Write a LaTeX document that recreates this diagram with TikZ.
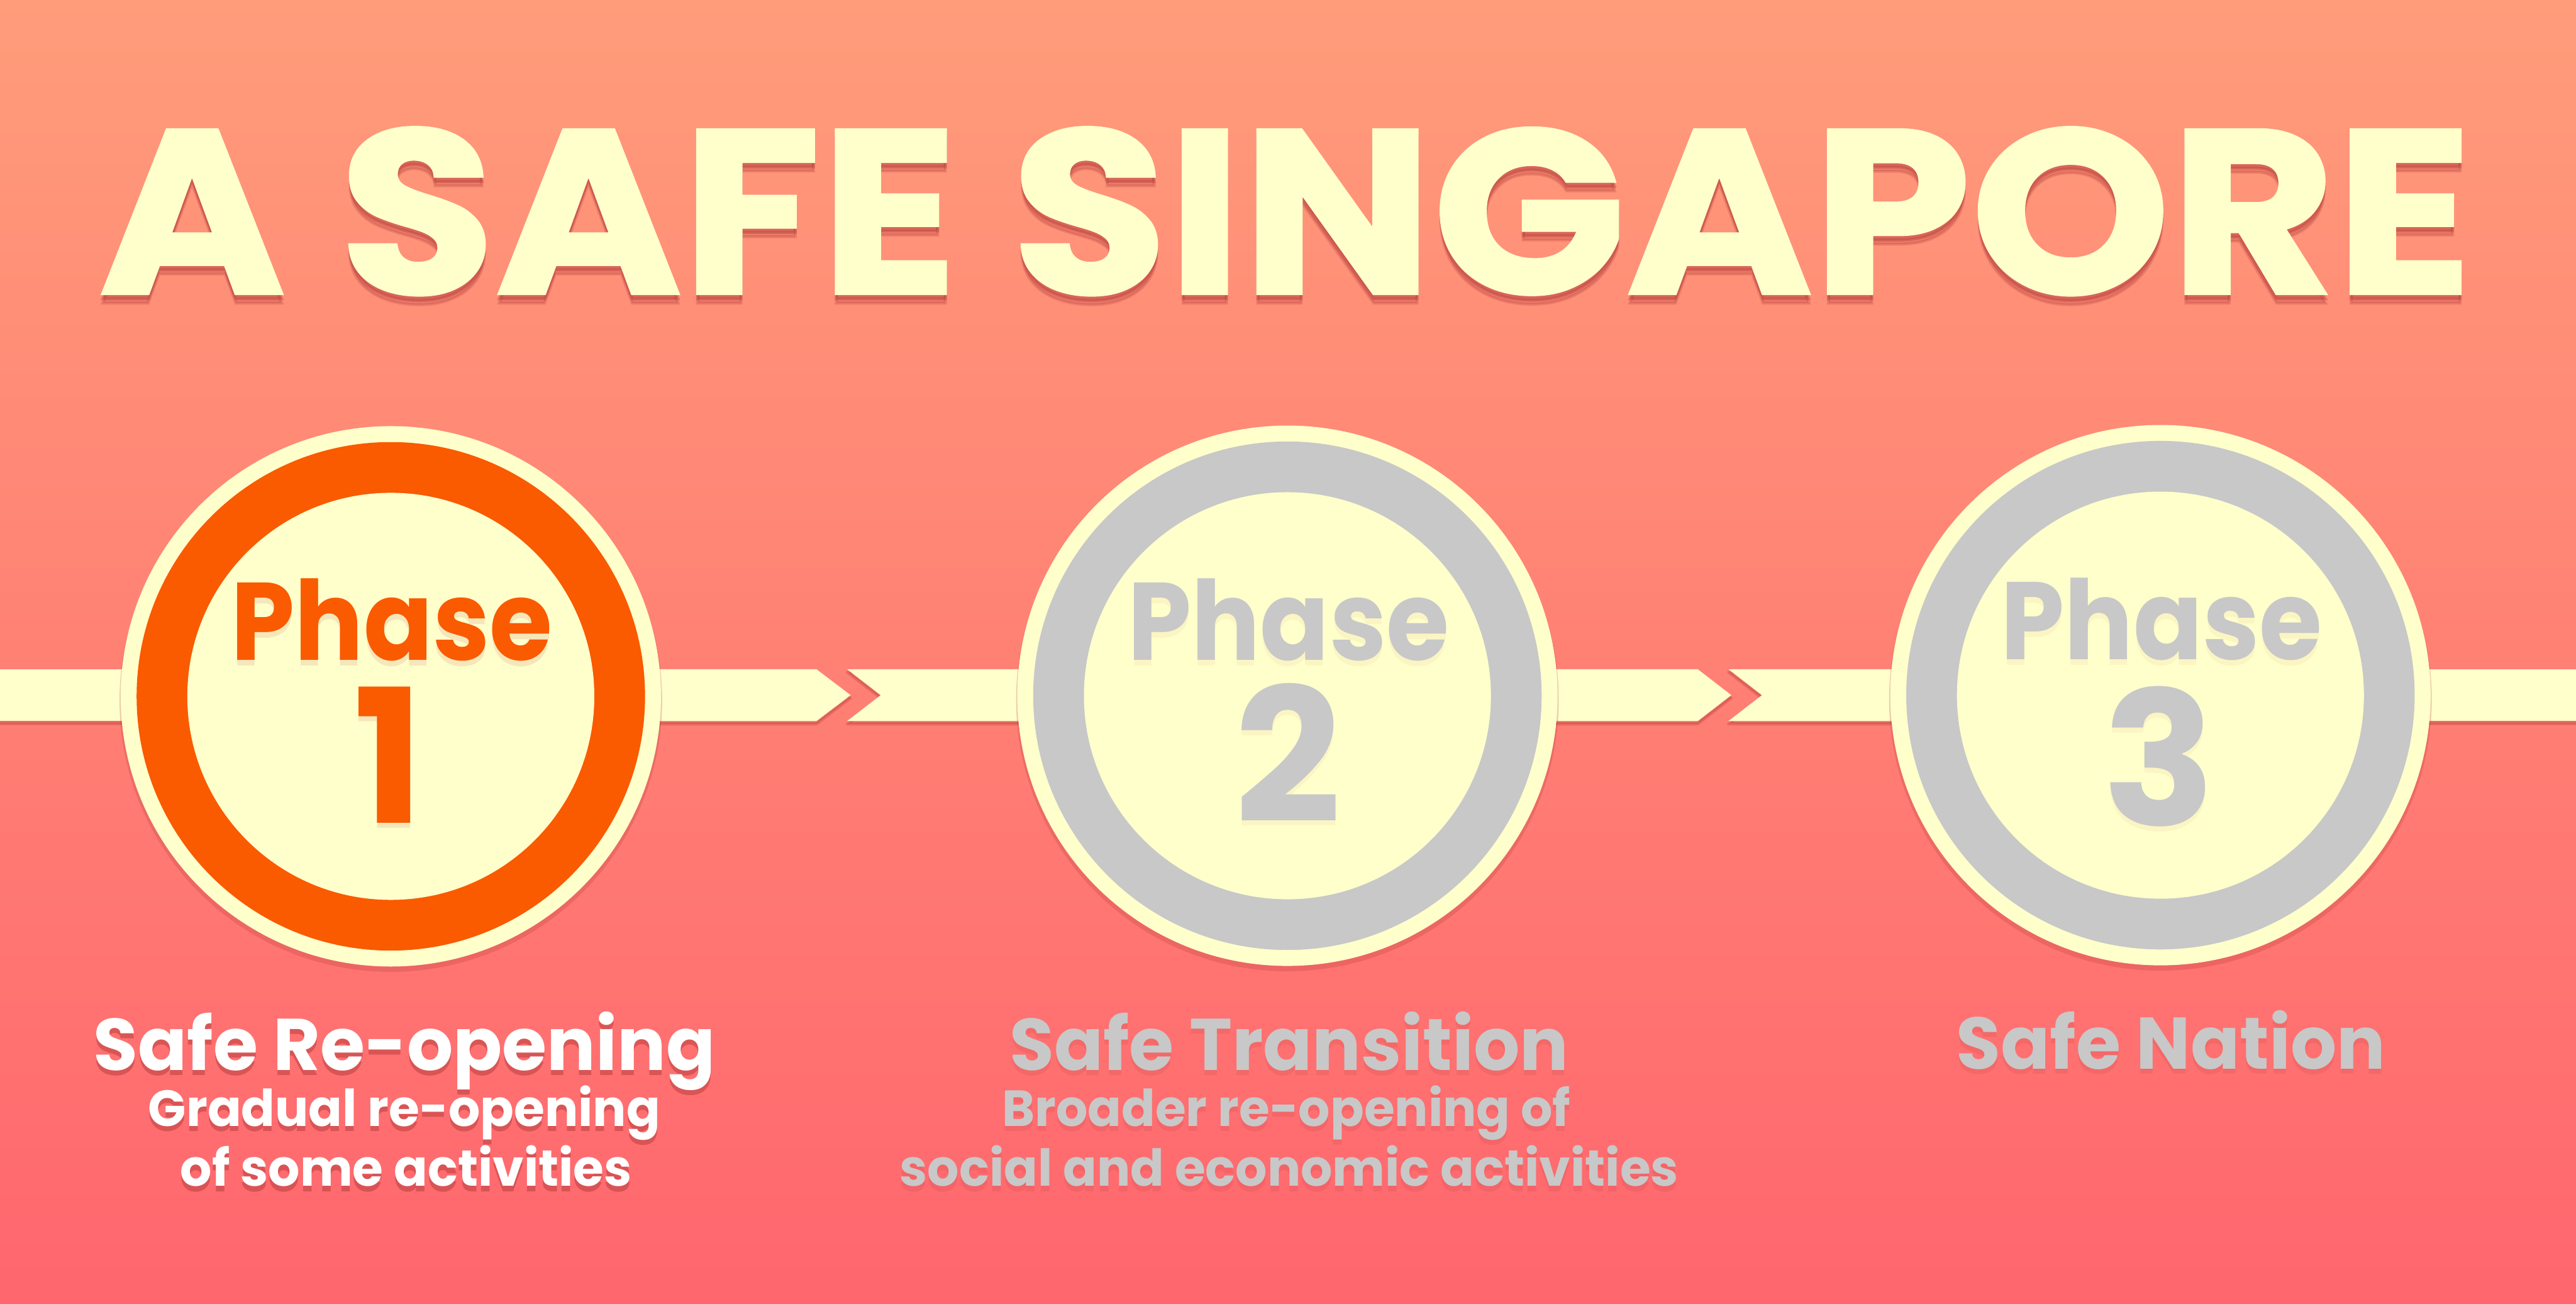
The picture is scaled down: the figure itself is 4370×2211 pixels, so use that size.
\documentclass[tikz,border=0pt]{standalone}
\usepackage{fontspec}
\setmainfont{Poppins}
\newfontfamily\heavyfont{Poppins}[BoldFeatures={FakeBold=1.2}]
\definecolor{bgtop}{RGB}{255,156,122}
\definecolor{bgbot}{RGB}{255,102,110}
\definecolor{cream}{RGB}{255,255,204}
\definecolor{ringorange}{RGB}{250,90,0}
\definecolor{ringgrey}{RGB}{200,200,200}
\definecolor{shadowc}{RGB}{180,60,60}
\newcommand\shadowtext[8]{%
  \node[anchor=base, text=shadowc, opacity=#7, font=#4, xscale=#8] (#1s) at (#2,#3+9) {#6};
  \node[anchor=base, text=#5, font=#4, xscale=#8] (#1) at (#2,#3) {#6};}
\newcommand\bandpiece[1]{%
  \filldraw[fill=shadowc, draw=shadowc, line width=1.4pt, line join=round, opacity=0.28, yshift=-0.05cm] #1;
  \fill[cream] #1;}
\begin{document}
\begin{tikzpicture}[x=0.01cm,y=-0.01cm,
  every node/.style={inner sep=0pt, outer sep=0pt},
  outerdisc/.style={circle, fill=cream, minimum size=9.16cm},
  discshadow/.style={circle, fill=shadowc, opacity=0.25, minimum size=9.2cm},
  ringdisc/.style={circle, minimum size=8.62cm},
  innerdisc/.style={circle, fill=cream, minimum size=6.9cm}]
\useasboundingbox (0,0) rectangle (4370,2211);
\shade[top color=bgtop, bottom color=bgbot] (0,0) rectangle (4370,2211);

% title
\node[anchor=base, text=shadowc, opacity=0.25, font=\heavyfont\bfseries\fontsize{112.7}{120}\selectfont, xscale=1.085] (titles2) at (2181,514) {A SAFE SINGAPORE};
\shadowtext{title}{2181}{498}{\heavyfont\bfseries\fontsize{112.7}{120}\selectfont}{cream}{A SAFE SINGAPORE}{0.35}{1.085}

% centres
\coordinate (p1) at (663,1181);
\coordinate (p2) at (2184,1180);
\coordinate (p3) at (3665,1179);

% band
\bandpiece{(-20,1135) rectangle (663,1223)}
\bandpiece{(663,1135) -- (1385,1135) -- (1443,1179) -- (1385,1223) -- (663,1223) -- cycle}
\bandpiece{(1437,1135) -- (2184,1135) -- (2184,1223) -- (1437,1223) -- (1494,1179) -- cycle}
\bandpiece{(2184,1135) -- (2880,1135) -- (2937,1179) -- (2880,1223) -- (2184,1223) -- cycle}
\bandpiece{(2932,1135) -- (3665,1135) -- (3665,1223) -- (2932,1223) -- (2989,1179) -- cycle}
\bandpiece{(3665,1135) rectangle (4390,1223)}

% circles
\node[discshadow] (s1) at ([yshift=-0.07cm]p1) {};
\node[discshadow] (s2) at ([yshift=-0.07cm]p2) {};
\node[discshadow] (s3) at ([yshift=-0.07cm]p3) {};
\node[outerdisc] (c1) at (p1) {};
\node[outerdisc] (c2) at (p2) {};
\node[outerdisc] (c3) at (p3) {};
\node[ringdisc, fill=ringorange] (r1) at (p1) {};
\node[ringdisc, fill=ringgrey] (r2) at (p2) {};
\node[ringdisc, fill=ringgrey] (r3) at (p3) {};
\node[innerdisc] (i1) at (p1) {};
\node[innerdisc] (i2) at (p2) {};
\node[innerdisc] (i3) at (p3) {};

% phase texts
\shadowtext{ph1}{665}{1120}{\bfseries\fontsize{53.2}{56}\selectfont}{ringorange}{Phase}{0.12}{0.925}
\shadowtext{ph2}{2186}{1120}{\bfseries\fontsize{53.2}{56}\selectfont}{ringgrey}{Phase}{0.05}{0.925}
\shadowtext{ph3}{3667}{1119}{\bfseries\fontsize{53.2}{56}\selectfont}{ringgrey}{Phase}{0.05}{0.925}
\shadowtext{n1}{660}{1396}{\bfseries\fontsize{90}{96}\selectfont}{ringorange}{1}{0.12}{1}
\shadowtext{n2}{2185}{1395}{\bfseries\fontsize{90}{96}\selectfont}{ringgrey}{2}{0.05}{1}
\shadowtext{n3}{3663}{1400}{\bfseries\fontsize{90}{96}\selectfont}{ringgrey}{3}{0.05}{1}

% labels
\shadowtext{l1}{686}{1815}{\bfseries\fontsize{35.3}{38}\selectfont}{white}{Safe Re-opening}{0.5}{0.99}
\shadowtext{l1a}{686}{1910}{\bfseries\fontsize{24.5}{26}\selectfont}{white}{Gradual re-opening}{0.5}{0.98}
\shadowtext{l1b}{689}{2012}{\bfseries\fontsize{24.5}{26}\selectfont}{white}{of some activities}{0.5}{0.98}
\shadowtext{l2}{2187}{1815}{\bfseries\fontsize{35.3}{38}\selectfont}{ringgrey}{Safe Transition}{0.15}{0.99}
\shadowtext{l2a}{2182}{1910}{\bfseries\fontsize{24.5}{26}\selectfont}{ringgrey}{Broader re-opening of}{0.15}{0.98}
\shadowtext{l2b}{2187}{2012}{\bfseries\fontsize{24.5}{26}\selectfont}{ringgrey}{social and economic activities}{0.15}{0.98}
\shadowtext{l3}{3683}{1813}{\bfseries\fontsize{35.3}{38}\selectfont}{ringgrey}{Safe Nation}{0.15}{0.99}
\end{tikzpicture}
\end{document}
